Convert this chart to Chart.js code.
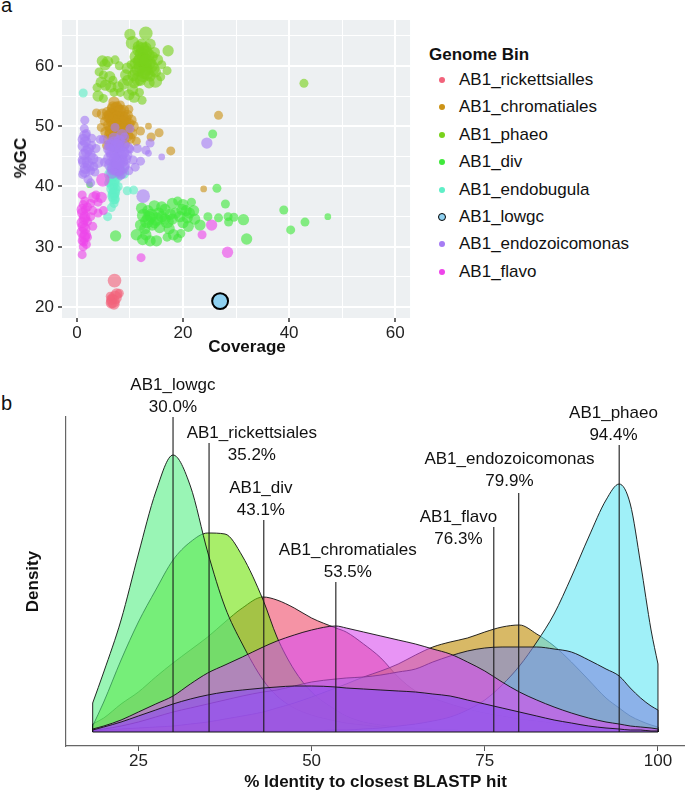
<!DOCTYPE html>
<html><head><meta charset="utf-8">
<script src="https://cdn.jsdelivr.net/npm/chart.js@4.4.1/dist/chart.umd.min.js"></script>
<style>
html,body{margin:0;padding:0;background:#fff;}
body{width:685px;height:793px;position:relative;overflow:hidden;font-family:"Liberation Sans",Arial,sans-serif;color:#111;}
#c1{position:absolute;left:0;top:0;}
#c2{position:absolute;left:0;top:370px;}
.lbl{position:absolute;font-size:20px;line-height:20px;}
.lt{position:absolute;font-size:17px;line-height:20px;white-space:nowrap;}
.at{position:absolute;font-size:17px;line-height:20px;font-weight:bold;white-space:nowrap;color:#111;}
.dot{position:absolute;border-radius:50%;box-sizing:border-box;}
</style></head><body>
<div class="lbl" style="left:1px;top:-5px">a</div>
<div class="lbl" style="left:1px;top:393px">b</div>
<canvas id="c1" width="420" height="360"></canvas>
<canvas id="c2" width="685" height="423"></canvas>
<div class="at" style="left:247px;top:347px;transform:translate(-50%,-50%)">Coverage</div>
<div class="at" style="left:21px;top:158px;transform:translate(-50%,-50%) rotate(-90deg)">%GC</div>
<div id="legend"></div>
<script>
// ---------------- Panel a data: [coverage, %GC, contig size class] ----------------
const binNames = ['AB1_rickettsialles','AB1_chromatiales','AB1_phaeo','AB1_div','AB1_endobugula','AB1_lowgc','AB1_endozoicomonas','AB1_flavo'];
const binColors = ['#F2637B','#CC9316','#79D21C','#40E93C','#5FEFC7','#8FD1F1','#A67CF4','#EE45EA'];

const rickettsialles = [[7.1,24.4,4],[6.8,21.0,4],[7.2,21.6,4],[6.6,21.3,3],[7.5,22.2,3],[8.0,22.3,2],[6.5,20.7,3],[7.0,20.5,3],[6.3,21.8,2]];
const chromatiales = [[7.0,54.0,3],[7.5,53.2,3],[8.2,53.5,2],[6.5,53.0,2],[5.8,52.3,3],[4.8,52.0,3],[3.7,52.2,2],[8.8,52.6,3],[9.5,51.8,3],[10.2,51.0,3],[10.6,50.0,3],[6.2,51.3,3],[7.0,51.7,4],[8.0,51.2,4],[9.0,50.8,4],[6.0,50.2,3],[7.2,50.4,4],[8.3,50.0,4],[9.4,49.6,3],[10.3,48.8,3],[5.5,49.0,3],[6.5,49.2,4],[7.6,48.8,4],[8.8,48.5,3],[10.0,48.0,3],[6.0,47.8,3],[7.0,47.5,3],[8.0,47.3,3],[9.2,47.0,2],[5.6,46.8,2],[6.8,46.4,2],[5.2,50.8,2],[4.6,49.8,2],[9.8,52.8,2],[7.8,52.4,4],[8.6,51.6,3],[6.6,52.2,3],[6.8,53.2,3],[7.4,52.8,4],[8.2,52.6,3],[6.4,51.8,4],[7.6,51.4,4],[8.6,50.6,4],[9.8,50.4,3],[6.8,50.8,4],[7.8,49.8,4],[8.8,49.4,4],[6.2,48.6,3],[7.2,48.2,4],[8.4,47.8,3],[9.6,48.4,3],[5.8,51.6,3],[9.2,51.4,3],[7.4,47.0,3],[6.4,49.8,3],[13.5,50.0,1],[14.0,48.2,2],[15.5,48.9,2],[17.7,45.9,2],[26.7,51.8,2],[23.9,39.6,1],[12.0,49.2,2],[11.2,47.5,2]];
const phaeo = [[10.0,65.2,3],[13.0,65.4,4],[10.5,63.8,4],[13.8,63.6,3],[17.2,62.5,3],[11.5,62.6,3],[12.2,62.0,4],[13.0,62.3,4],[12.6,61.2,4],[11.8,60.8,4],[13.6,60.5,4],[14.2,61.5,3],[12.0,59.8,4],[13.0,59.5,4],[14.3,59.5,4],[11.0,59.0,3],[12.5,58.4,4],[13.8,58.3,3],[11.5,57.8,4],[14.8,57.5,4],[10.8,57.2,3],[15.8,58.2,2],[17.0,59.2,2],[16.0,60.2,2],[9.5,59.6,3],[10.2,60.2,2],[11.2,61.5,4],[12.4,62.8,4],[13.4,61.8,4],[12.8,60.2,4],[11.6,59.4,4],[13.2,58.8,4],[12.0,57.6,3],[14.0,60.0,4],[12.2,63.6,3],[13.0,63.0,3],[14.6,62.2,3],[11.0,60.4,3],[12.6,59.0,4],[13.6,57.2,3],[14.8,59.0,3],[10.6,58.4,3],[12.0,61.0,4],[13.0,60.8,4],[15.2,61.0,3],[11.6,63.2,3],[4.8,60.8,3],[5.8,60.7,3],[5.3,60.2,3],[7.2,61.0,2],[8.0,60.0,2],[4.2,59.0,2],[5.0,58.5,2],[6.2,58.2,3],[4.6,57.3,3],[5.4,56.8,3],[6.4,56.5,3],[7.8,56.5,3],[8.8,57.0,3],[9.6,57.6,3],[4.0,55.0,3],[5.0,54.6,2],[7.0,55.6,2],[8.2,55.6,2],[9.8,55.2,3],[10.8,54.8,3],[11.8,55.6,2],[12.3,54.3,2],[3.8,56.4,2],[6.8,57.6,2],[9.2,58.5,3],[10.5,56.0,3],[42.8,57.1,2]];
const div = [[12.2,36.4,3],[12.6,35.2,4],[13.2,34.2,4],[12.0,33.6,3],[13.0,32.0,3],[12.4,31.2,3],[13.8,31.0,3],[15.0,31.0,3],[14.0,35.2,4],[15.0,34.6,4],[16.0,35.0,3],[17.0,34.2,4],[18.0,34.6,3],[17.4,33.0,3],[18.2,32.0,3],[19.0,31.4,2],[16.0,36.6,3],[18.0,37.2,3],[19.0,37.6,2],[20.0,37.0,3],[20.6,36.0,3],[21.2,35.6,3],[22.0,36.0,3],[20.0,34.0,3],[21.0,33.4,3],[22.2,34.6,3],[19.6,32.2,2],[23.2,33.6,3],[11.2,32.0,3],[14.6,36.8,3],[13.4,36.0,3],[15.6,33.2,3],[17.0,31.6,2],[16.6,36.2,3],[18.6,35.6,3],[14.2,33.6,3],[19.4,35.0,3],[21.6,37.4,2],[13.6,34.8,4],[14.6,34.0,3],[16.6,34.6,3],[12.8,33.0,3],[19.8,36.2,3],[20.8,34.8,3],[17.6,35.4,3],[15.4,35.6,3],[7.3,31.8,3],[24.7,35.0,2],[26.7,34.8,2],[26.4,39.7,2],[28.0,37.1,2],[28.5,35.0,2],[28.6,34.1,2],[29.6,34.9,2],[31.4,34.5,3],[32.0,31.3,3],[39.0,36.1,2],[40.3,32.8,2],[43.0,34.1,2],[47.3,35.0,1],[25.6,48.7,2],[2.4,40.3,1]];
const endobugula = [[6.6,43.0,3],[7.2,42.2,3],[6.4,41.2,3],[7.0,40.4,3],[6.6,39.6,3],[7.1,39.0,3],[6.8,38.4,3],[7.2,37.8,2],[7.0,37.2,2],[7.6,41.6,3],[8.2,42.6,3],[8.8,42.2,3],[6.0,40.6,2],[7.4,43.6,3],[6.8,41.8,3],[7.0,41.0,3],[6.7,40.2,3],[7.2,39.6,3],[6.9,38.8,3],[7.0,38.0,3],[7.3,42.8,3],[7.8,43.4,3],[5.8,35.0,2],[9.5,39.3,2],[10.7,39.4,2],[1.2,55.5,2],[6.2,42.0,3],[7.8,40.0,2],[6.5,36.5,2]];
const lowgc = [[27.0,21.0,5]];
const endozoicomonas = [[1.5,51.0,2],[1.5,48.4,3],[1.6,47.4,3],[1.2,46.7,3],[2.2,46.2,3],[1.4,45.3,3],[1.0,44.4,2],[2.0,44.0,3],[1.6,43.0,3],[2.6,42.6,2],[1.1,42.0,2],[2.1,41.2,2],[2.6,40.6,2],[3.0,44.6,3],[3.6,46.3,2],[4.0,44.0,3],[4.4,47.8,2],[3.4,42.4,2],[2.8,48.0,2],[1.4,49.6,2],[2.5,45.2,3],[3.2,43.3,2],[1.2,47.8,3],[1.8,45.8,3],[1.3,44.0,3],[2.2,43.4,3],[1.5,42.4,3],[2.8,46.8,2],[1.8,48.8,2],[7.0,48.0,3],[6.4,47.0,3],[8.0,46.6,4],[7.3,45.6,4],[6.2,44.6,4],[8.4,44.2,4],[7.0,43.2,4],[9.0,43.6,3],[9.4,45.2,3],[8.0,42.6,3],[6.6,42.2,3],[7.0,47.2,4],[7.8,46.0,4],[6.6,45.8,4],[8.2,45.0,4],[7.2,44.4,4],[6.4,43.6,4],[8.6,43.2,4],[7.6,42.8,4],[9.2,44.6,3],[8.8,46.8,3],[6.2,46.8,3],[7.4,43.8,4],[8.0,47.6,3],[9.6,46.4,3],[6.8,42.8,3],[8.4,42.2,3],[10.0,46.2,2],[10.6,44.4,2],[11.4,46.3,2],[12.0,44.2,2],[13.0,46.0,2],[11.0,43.2,2],[9.0,48.2,2],[10.0,49.6,2],[8.5,48.6,3],[7.8,44.0,4],[6.8,45.2,4],[7.5,46.8,4],[8.8,45.6,3],[6.0,46.2,3],[5.2,44.0,2],[5.0,47.8,2],[7.2,49.8,2],[9.8,42.6,2],[8.2,41.8,2],[13.8,47.2,2],[24.5,47.2,3],[16.0,44.9,1],[13.5,45.5,1],[12.5,38.4,4]];
const flavo = [[1.0,38.6,2],[1.5,37.6,2],[1.0,36.2,3],[1.5,35.0,3],[1.0,34.0,3],[1.5,33.0,3],[1.0,32.4,3],[1.6,32.0,3],[1.0,31.0,2],[1.2,30.0,2],[1.0,28.7,2],[1.2,37.0,2],[1.4,34.6,3],[1.2,33.4,3],[1.4,31.6,3],[1.1,35.6,3],[1.6,36.2,2],[1.3,30.8,2],[2.0,34.2,2],[2.0,36.6,2],[2.6,37.2,2],[3.2,38.2,3],[3.6,38.6,2],[4.0,37.4,2],[3.0,36.0,2],[4.0,35.6,2],[5.0,36.0,2],[4.6,38.2,3],[2.6,35.0,2],[3.0,33.4,2],[2.0,31.6,2],[1.8,30.4,2],[12.1,28.2,2],[23.6,32.0,2],[25.4,33.6,3],[28.4,29.1,3],[4.9,41.1,4]];
const scatterSeries = [rickettsialles, chromatiales, phaeo, div, endobugula, lowgc, endozoicomonas, flavo];

// ---------------- Panel b data: density vs % identity ----------------
const identity = [18.4,20,22.5,25,27.5,30,32.5,35,37.5,40,43,45,47.5,50,53.5,55,57.5,60,62.5,65,67.5,70,72.5,75,77.5,80,82.5,85,87.5,90,92.5,94.4,96,97.5,99,100];
const densDiv = [0.0016,0.0028,0.0056,0.008,0.011,0.0138,0.0164,0.019,0.022,0.0248,0.027,0.0264,0.0248,0.0228,0.0208,0.02,0.0176,0.0148,0.011,0.0082,0.0068,0.0056,0.0046,0.0038,0.0032,0.0026,0.0022,0.0018,0.0014,0.0012,0.001,0.0008,0.0008,0.0006,0.0006,0.0006];
const densRickettsiales = [0.0012,0.006,0.0144,0.022,0.0284,0.0344,0.038,0.0398,0.0396,0.0352,0.0264,0.019,0.0124,0.008,0.0044,0.0032,0.002,0.0014,0.001,0.0008,0.0006,0.0004,0.0004,0.0002,0.0002,0.0002,0.0002,0.0002,0.0002,0.0002,0.0001,0.0001,0.0001,0.0001,0.0001,0.0001];
const densLowgc = [0.0058,0.012,0.0224,0.0356,0.048,0.0554,0.0492,0.036,0.025,0.0176,0.0104,0.0072,0.0048,0.0034,0.0022,0.0018,0.0014,0.001,0.0008,0.0006,0.0004,0.0004,0.0002,0.0002,0.0002,0.0002,0.0002,0.0002,0.0002,0.0001,0.0001,0.0001,0.0001,0.0001,0.0001,0.0001];
const densEndozoicomonas = [0.0002,0.0004,0.0006,0.0008,0.001,0.0012,0.0016,0.002,0.0026,0.0032,0.004,0.0048,0.0058,0.007,0.0088,0.0096,0.011,0.0122,0.0136,0.0154,0.017,0.018,0.0188,0.02,0.021,0.0214,0.0196,0.0172,0.014,0.0104,0.0068,0.0048,0.0032,0.0022,0.0014,0.001];
const densPhaeo = [0.0002,0.0002,0.0002,0.0002,0.0002,0.0002,0.0002,0.0002,0.0002,0.0002,0.0002,0.0002,0.0002,0.0002,0.0004,0.0004,0.0006,0.0008,0.0012,0.0016,0.0022,0.003,0.0044,0.0064,0.0094,0.0132,0.018,0.0236,0.031,0.039,0.0464,0.0496,0.0456,0.0336,0.0204,0.0136];
const densFlavo = [0.0004,0.0006,0.0012,0.002,0.003,0.004,0.0048,0.0056,0.0064,0.0072,0.008,0.0084,0.0092,0.01,0.0106,0.0108,0.011,0.0114,0.012,0.0126,0.014,0.0152,0.0162,0.0168,0.017,0.017,0.017,0.0166,0.016,0.0144,0.0126,0.0112,0.0088,0.0068,0.0052,0.0044];
const densChromatiales = [0.0006,0.0012,0.0024,0.004,0.0056,0.0072,0.0096,0.0118,0.0134,0.015,0.017,0.0182,0.0194,0.0204,0.0212,0.0208,0.02,0.0192,0.0184,0.0176,0.0166,0.0156,0.014,0.0122,0.01,0.008,0.0064,0.005,0.0038,0.0028,0.002,0.0016,0.0012,0.001,0.0008,0.0006];
const densEndobugula = [0.0004,0.001,0.002,0.0032,0.0044,0.0056,0.0066,0.0074,0.008,0.0084,0.0088,0.009,0.0092,0.0092,0.009,0.0088,0.0086,0.0084,0.0082,0.008,0.0076,0.0072,0.0064,0.0056,0.0048,0.004,0.0032,0.0024,0.0018,0.0012,0.0008,0.0006,0.0004,0.0004,0.0002,0.0002];
// drawing order bottom -> top
const densSeries = [densDiv, densRickettsiales, densLowgc, densEndozoicomonas, densPhaeo, densFlavo, densChromatiales, densEndobugula];
const densColors = ['rgba(238,75,105,0.6)','rgba(110,227,7,0.6)','rgba(85,238,132,0.6)','rgba(190,138,0,0.6)','rgba(97,230,243,0.6)','rgba(127,136,224,0.6)','rgba(216,76,238,0.6)','rgba(138,77,240,0.6)'];

const modeNames = ['AB1_lowgc','AB1_rickettsiales','AB1_div','AB1_chromatiales','AB1_flavo','AB1_endozoicomonas','AB1_phaeo'];
const modes = [30.0,35.2,43.1,53.5,76.3,79.9,94.4];
// annotation layout (in axis units): top of each marker line, label anchor
const lineTop = [0.063,0.0578,0.0424,0.030,0.041,0.0478,0.0574];
const labelX = [29.98,41.38,42.68,55.23,71.2,78.56,93.58];
const labelY = [0.0694,0.0598,0.0488,0.0364,0.043,0.0546,0.0638];

// ---------------- rendering ----------------
const FONT = '"Liberation Sans", Arial, sans-serif';
Chart.defaults.font.family = FONT;
Chart.defaults.font.size = 17;
Chart.defaults.color = '#222';

function rgba(hex, a){
  const n = parseInt(hex.slice(1),16);
  return 'rgba(' + ((n>>16)&255) + ',' + ((n>>8)&255) + ',' + (n&255) + ',' + a + ')';
}

const panelBg = { id:'panelBg', beforeDraw(chart, args, opts){
  const {ctx, chartArea:a} = chart;
  ctx.save(); ctx.fillStyle = opts.color;
  ctx.fillRect(a.left, a.top, a.right-a.left, a.bottom-a.top);
  ctx.restore();
}};

const LOW = 5;
const radiusOf = c => (c.raw ? 2.2 + 1.15*c.raw.s : 3);
new Chart(document.getElementById('c1'), {
  type:'scatter',
  data:{ datasets: scatterSeries.map((s,i)=>({
    label: binNames[i],
    data: s.map(p=>({x:p[0], y:p[1], s:p[2]})),
    backgroundColor: i===LOW ? binColors[i] : rgba(binColors[i],0.62),
    borderColor: i===LOW ? '#000' : 'rgba(0,0,0,0)',
    borderWidth: i===LOW ? 2 : 0,
    pointRadius: radiusOf,
    pointHoverRadius: radiusOf,
    order: scatterSeries.length - i
  }))},
  options:{
    responsive:false, animation:false, events:[],
    layout:{padding:{left:0,top:20,right:7,bottom:0}},
    plugins:{legend:{display:false}, tooltip:{enabled:false}, panelBg:{color:'#EDF0F2'}},
    scales:{
      x:{type:'linear', min:-2.8, max:62.8, afterFit(s){ s.height = 42; },
        ticks:{stepSize:10, includeBounds:false, autoSkip:false, maxRotation:0, padding:1, color:'#222',
          callback: v => (v % 20 === 0 ? String(v) : '')},
        grid:{color:'#ffffff', lineWidth: c => (c.tick && c.tick.value % 20 === 0 ? 2 : 1),
          drawTicks:true, tickLength:4, tickWidth:1.5,
          tickColor: c => (c.tick && c.tick.value % 20 === 0 ? '#333' : 'rgba(0,0,0,0)')},
        border:{display:false},
        title:{display:false}
      },
      y:{type:'linear', min:18.2, max:67.6, afterFit(s){ s.width = 62; },
        ticks:{stepSize:5, includeBounds:false, autoSkip:false, padding:4, color:'#222',
          callback: v => (v % 10 === 0 ? String(v) : '')},
        grid:{color:'#ffffff', lineWidth: c => (c.tick && c.tick.value % 10 === 0 ? 2 : 1),
          drawTicks:true, tickLength:4, tickWidth:1.5,
          tickColor: c => (c.tick && c.tick.value % 10 === 0 ? '#333' : 'rgba(0,0,0,0)')},
        border:{display:false},
        title:{display:false}
      }
    }
  },
  plugins:[panelBg]
});

// HTML legend
(function(){
  const lg = document.getElementById('legend');
  const t = document.createElement('div');
  t.className = 'lt'; t.style.left = '429px'; t.style.top = '45px'; t.style.fontWeight = 'bold';
  t.textContent = 'Genome Bin'; lg.appendChild(t);
  binNames.forEach((n,i)=>{
    const cy = 80 + i*27.4;
    const d = document.createElement('div');
    d.className = 'dot';
    const sz = i===LOW ? 8 : 6;
    d.style.width = sz+'px'; d.style.height = sz+'px';
    d.style.left = (442 - sz/2)+'px'; d.style.top = (cy - sz/2)+'px';
    d.style.background = binColors[i];
    if (i===LOW) d.style.border = '1px solid #000';
    lg.appendChild(d);
    const s = document.createElement('div');
    s.className = 'lt'; s.style.left = '459px'; s.style.top = (cy - 10)+'px';
    s.textContent = n; lg.appendChild(s);
  });
})();

const labelPlugin = { id:'modeLabels', afterDatasetsDraw(chart){
  const {ctx, scales:{x, y}} = chart;
  ctx.save();
  ctx.font = '17px ' + FONT; ctx.fillStyle = '#111';
  ctx.textAlign = 'center'; ctx.textBaseline = 'middle';
  modeNames.forEach((n,i)=>{
    const px = x.getPixelForValue(labelX[i]);
    const py = y.getPixelForValue(labelY[i]);
    ctx.fillText(n, px, py);
    ctx.fillText(modes[i].toFixed(1) + '%', px, py + 22);
  });
  ctx.restore();
}};

const densDatasets = densSeries.map((vals,i)=>({
  data: identity.map((x,k)=>({x, y: vals[k]})),
  borderColor:'rgba(15,15,15,0.9)', borderWidth:1,
  backgroundColor: densColors[i], fill:'origin',
  pointRadius:0, cubicInterpolationMode:'monotone',
  order: 100 - i
}));
// vertical outline edges of each density polygon (ends of the support)
const edgeDatasets = [];
densSeries.forEach((vals,i)=>{
  const n = identity.length - 1;
  [[identity[0], vals[0]], [identity[n], vals[n]]].forEach(e=>{
    edgeDatasets.push({
      data:[{x:e[0], y:0},{x:e[0], y:e[1]}],
      borderColor:'rgba(15,15,15,0.9)', borderWidth:1, fill:false, pointRadius:0,
      order: 100 - i - 0.5
    });
  });
});
const modeDatasets = modes.map((m,i)=>({
  data:[{x:m, y:0},{x:m, y:lineTop[i]}],
  borderColor:'#1a1a1a', borderWidth:1.1, fill:false, pointRadius:0, order:-1
}));
const baseDataset = {
  data:[{x:identity[0], y:0},{x:identity[identity.length-1], y:0}],
  borderColor:'#111', borderWidth:1.1, fill:false, pointRadius:0, order:0
};

new Chart(document.getElementById('c2'), {
  type:'line',
  data:{datasets:[...densDatasets, ...edgeDatasets, baseDataset, ...modeDatasets]},
  options:{
    responsive:false, animation:false, events:[],
    layout:{padding:{left:0,top:47,right:0,bottom:0}},
    plugins:{legend:{display:false}, tooltip:{enabled:false}},
    scales:{
      x:{type:'linear', min:14.55, max:103.9, afterFit(s){ s.height = 47; },
        ticks:{stepSize:25, includeBounds:false, autoSkip:false, maxRotation:0, padding:0, color:'#222'},
        grid:{drawOnChartArea:false, drawTicks:true, tickLength:5, tickColor:'#555', tickWidth:1},
        border:{display:true, color:'#666', width:1.2},
        title:{display:true, text:'% Identity to closest BLASTP hit', color:'#111', font:{weight:'bold', size:17}, padding:{top:0,bottom:0}}
      },
      y:{type:'linear', min:-0.0028, max:0.063, afterFit(s){ s.width = 66; },
        ticks:{display:false},
        grid:{display:false, drawTicks:false},
        border:{display:true, color:'#666', width:1.2},
        title:{display:true, text:'Density', color:'#111', font:{weight:'bold', size:17}, padding:{top:23,bottom:0}}
      }
    }
  },
  plugins:[labelPlugin]
});
</script>
</body></html>
